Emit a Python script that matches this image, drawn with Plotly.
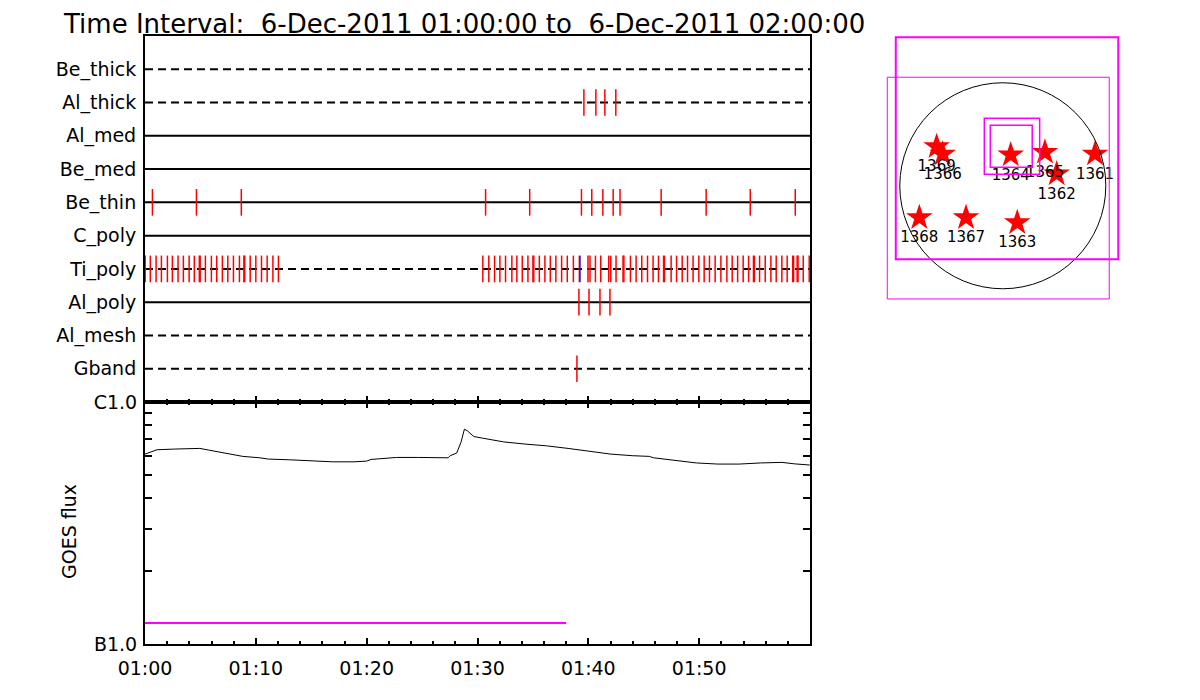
import plotly.graph_objects as go
import pandas as pd

# ---------------- data ----------------
T0 = pd.Timestamp("2011-12-06 01:00:00")
T1 = pd.Timestamp("2011-12-06 02:00:00")

filters = ["Be_thick", "Al_thick", "Al_med", "Be_med", "Be_thin",
           "C_poly", "Ti_poly", "Al_poly", "Al_mesh", "Gband"]
filter_dashed = [True, True, False, False, False, False, True, False, True, True]

# observation times, minutes after 01:00
obs_be_thick = []
obs_al_thick = [39.6, 40.68, 41.49, 42.48]
obs_al_med = []
obs_be_med = []
obs_be_thin = [0.67, 4.64, 8.69, 30.73, 34.71, 39.38, 40.31, 41.31, 42.24, 42.86,
               46.57, 50.63, 54.61, 58.67]
obs_c_poly = []
obs_ti_poly = [0.02, 0.48, 1.0, 1.48, 2.02, 2.47, 2.98, 3.46, 3.98, 4.45, 4.9, 4.98,
               5.45, 5.99, 6.47, 6.98, 7.47, 7.98, 8.52, 8.92, 9.0, 9.49, 10.0, 10.51,
               11.02, 11.54, 12.04,
               30.48, 31.02, 31.54, 32.02, 32.53, 33.10, 33.55, 34.04, 34.55, 35.0, 35.08,
               35.58, 36.08, 36.57, 37.07, 37.59, 38.10, 38.65, 39.19, 39.97, 40.15, 40.64,
               41.12, 41.84, 42.02, 42.50, 43.13, 43.21, 43.80, 44.31, 44.82, 45.34, 45.84,
               46.33, 46.79, 46.87, 47.47, 47.96, 48.47, 48.95, 49.45, 49.97, 50.45, 50.93,
               51.44, 51.96, 52.50, 52.98, 53.47, 53.97, 54.46, 54.90, 54.98, 55.45, 55.96,
               56.47, 56.95, 57.46, 57.94, 58.44, 58.52, 58.84, 58.92, 59.39, 59.93]
obs_ti_poly_blue = [39.26]
obs_al_poly = [39.15, 40.06, 41.05, 41.95]
obs_al_mesh = []
obs_gband = [38.97]

obs_by_filter = [obs_be_thick, obs_al_thick, obs_al_med, obs_be_med, obs_be_thin,
                 obs_c_poly, obs_ti_poly, obs_al_poly, obs_al_mesh, obs_gband]

# GOES flux (W/m^2), minutes after 01:00
goes_min = [0.0, 1.09, 2.64, 4.95, 5.73, 7.27, 8.82, 10.36, 11.13, 13.06, 15.0, 16.92,
            18.86, 20.0, 20.4, 22.7, 24.65, 26.57, 27.35, 27.54, 28.12, 28.5, 28.82,
            29.09, 29.67, 30.44, 32.37, 34.3, 36.23, 38.17, 40.1, 42.03, 43.96, 45.5,
            45.89, 47.82, 49.75, 51.68, 53.61, 55.54, 57.47, 58.63, 59.98]
goes_flux = [6.09e-7, 6.35e-7, 6.39e-7, 6.43e-7, 6.33e-7, 6.15e-7, 5.96e-7, 5.88e-7,
             5.81e-7, 5.77e-7, 5.70e-7, 5.66e-7, 5.66e-7, 5.70e-7, 5.79e-7, 5.90e-7,
             5.90e-7, 5.86e-7, 5.88e-7, 6.0e-7, 6.15e-7, 6.80e-7, 7.72e-7, 7.60e-7,
             7.2e-7, 7.09e-7, 6.84e-7, 6.70e-7, 6.59e-7, 6.43e-7, 6.27e-7, 6.09e-7,
             6.0e-7, 5.96e-7, 5.88e-7, 5.72e-7, 5.60e-7, 5.54e-7, 5.54e-7, 5.60e-7,
             5.63e-7, 5.55e-7, 5.49e-7]
bar_min = [0.0, 38.0]
bar_flux = [1.22e-7, 1.22e-7]

# x tick labels (minutes after 01:00)
xtick_min = [0, 10, 20, 30, 40, 50]
xtick_text = ["01:00", "01:10", "01:20", "01:30", "01:40", "01:50"]

# Solar map (arcsec)
sun_radius = 975
ar_numbers = ["1369", "1366", "1364", "1365", "1362", "1361", "1368", "1367", "1363"]
ar_x = [-626, -569, 75, 399, 510, 873, -790, -348, 137]
ar_y = [370, 301, 292, 317, 112, 301, -302, -302, -349]
fov_xc = [40, -43, 87, 80]
fov_yc = [355, -22, 374, 374]
fov_w = [2106, 2101, 524, 397]
fov_h = [2102, 2099, 530, 398]
fov_lw = [2, 1, 1.5, 1.5]


def tm(m):
    return T0 + pd.Timedelta(minutes=m)


# page has an 8px body margin; figure fills the rest of the 1200x700 window
OFF = 8
W, H = 1200 - OFF, 700 - OFF


def fx(p):
    return (p - OFF) / W


def fy(p):
    return 1 - (p - OFF) / H


fig = go.Figure()
n = len(filters)
rows_y = [n - i for i in range(n)]

for name, yv, dashed in zip(filters, rows_y, filter_dashed):
    fig.add_trace(go.Scatter(x=[T0, T1], y=[yv, yv], mode="lines",
                             line=dict(color="black", width=2,
                                       dash="8px,5px" if dashed else "solid"),
                             xaxis="x", yaxis="y", showlegend=False, hoverinfo="skip"))


def seg(times, yv):
    xs, ys = [], []
    for t in times:
        xs += [tm(t), tm(t), None]
        ys += [yv - 0.4, yv + 0.4, None]
    return xs, ys


for obs, yv in zip(obs_by_filter, rows_y):
    if obs:
        xs, ys = seg(obs, yv)
        fig.add_trace(go.Scatter(x=xs, y=ys, mode="lines",
                                 line=dict(color="red", width=1.5),
                                 xaxis="x", yaxis="y", showlegend=False))
xs, ys = seg(obs_ti_poly_blue, rows_y[filters.index("Ti_poly")])
fig.add_trace(go.Scatter(x=xs, y=ys, mode="lines", line=dict(color="blue", width=1),
                         xaxis="x", yaxis="y", showlegend=False))

# GOES
fig.add_trace(go.Scatter(x=[tm(m) for m in goes_min], y=goes_flux, mode="lines",
                         line=dict(color="black", width=1),
                         xaxis="x2", yaxis="y2", showlegend=False))
fig.add_trace(go.Scatter(x=[tm(m) for m in bar_min], y=bar_flux, mode="lines",
                         line=dict(color="magenta", width=2),
                         xaxis="x2", yaxis="y2", showlegend=False))

# Solar map
fig.add_trace(go.Scatter(x=ar_x, y=ar_y, mode="markers+text", text=ar_numbers,
                         textposition="bottom center",
                         textfont=dict(size=15, color="black", family="DejaVu Sans"),
                         marker=dict(symbol="star", size=20, color="red",
                                     line=dict(width=0)),
                         xaxis="x3", yaxis="y3", showlegend=False))

shapes = [dict(type="circle", xref="x3", yref="y3",
               x0=-sun_radius, x1=sun_radius, y0=-sun_radius, y1=sun_radius,
               line=dict(color="black", width=1))]
for xc, yc, w, h, lw in zip(fov_xc, fov_yc, fov_w, fov_h, fov_lw):
    shapes.append(dict(type="rect", xref="x3", yref="y3",
                       x0=xc - w / 2, x1=xc + w / 2, y0=yc - h / 2, y1=yc + h / 2,
                       line=dict(color="magenta", width=lw)))

FONT = "DejaVu Sans"
xdom = [fx(145), fx(810)]
top_dom = [fy(402), fy(36)]
goes_dom = [fy(644), fy(402)]

minor_x = dict(ticks="inside", ticklen=3, tickwidth=1.5, tick0=T0, dtick=120000,
               tickcolor="black", showgrid=False)

fig.update_layout(
    width=W, height=H, autosize=False,
    margin=dict(l=0, r=0, t=0, b=0, pad=0, autoexpand=False),
    paper_bgcolor="white", plot_bgcolor="white",
    font=dict(family=FONT, color="black"),
    shapes=shapes,
    xaxis=dict(domain=xdom, anchor="y", range=[T0, T1], type="date", automargin=False,
               showticklabels=False, showgrid=False, showline=True, mirror=True,
               linecolor="black", linewidth=2,
               tickmode="array", tickvals=[tm(m) for m in xtick_min],
               ticks="inside", ticklen=6, tickwidth=2, tickcolor="black",
               minor=minor_x),
    yaxis=dict(domain=top_dom, anchor="x", range=[0, 11], automargin=False,
               tickmode="array", tickvals=rows_y, ticktext=filters,
               ticks="", showgrid=False, zeroline=False, ticklabelstandoff=3,
               showline=True, mirror=True, linecolor="black", linewidth=2,
               tickfont=dict(size=19, family=FONT)),
    xaxis2=dict(domain=xdom, anchor="y2", range=[T0, T1], type="date", automargin=False,
                tickmode="array", tickvals=[tm(m) for m in xtick_min],
                ticktext=xtick_text, ticklabelstandoff=6,
                showgrid=False, showline=True, mirror="ticks",
                linecolor="black", linewidth=2,
                ticks="inside", ticklen=6, tickwidth=2, tickcolor="black",
                minor=minor_x,
                tickfont=dict(size=19, family=FONT)),
    yaxis2=dict(domain=goes_dom, anchor="x2", type="log", range=[-7, -6],
                automargin=False, ticklabelstandoff=2,
                tickmode="array", tickvals=[1e-7, 1e-6], ticktext=["B1.0", "C1.0"],
                showgrid=False, zeroline=False, showline=True, mirror="ticks",
                linecolor="black", linewidth=2,
                ticks="inside", ticklen=7, tickwidth=1.5, tickcolor="black",
                minor=dict(ticks="inside", ticklen=7, tickwidth=1.5, dtick="D1",
                           tickcolor="black", showgrid=False),
                tickfont=dict(size=19, family=FONT)),
    xaxis3=dict(domain=[fx(870), fx(1130)], anchor="y3", range=[-1257, 1204],
                visible=False),
    yaxis3=dict(domain=[fy(310), fy(25)], anchor="x3", range=[-1176, 1522],
                visible=False),
    annotations=[
        dict(text="Time Interval:\u00a0 6-Dec-2011 01:00:00 to\u00a0 6-Dec-2011 02:00:00",
             xref="paper", yref="paper", x=fx(62), y=fy(8),
             xanchor="left", yanchor="top", showarrow=False, borderpad=0,
             font=dict(size=26, family=FONT)),
        dict(text="GOES flux", xref="paper", yref="paper", x=fx(69), y=fy(532),
             xanchor="center", yanchor="middle", textangle=-90, showarrow=False,
             font=dict(size=19, family=FONT)),
    ],
)

fig.write_html("out.html")
